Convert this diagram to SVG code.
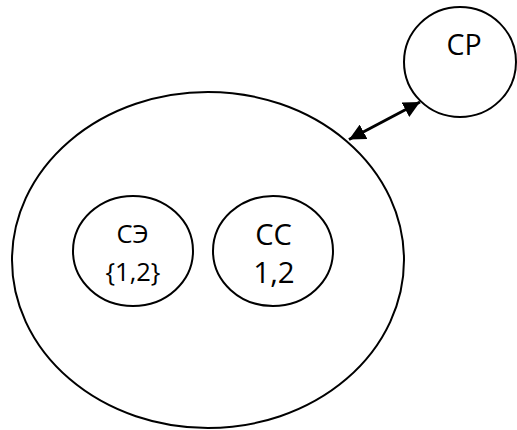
<svg xmlns="http://www.w3.org/2000/svg" width="517" height="430" viewBox="0 0 517 430">
<style>
.n{fill:#fff;stroke:#000;stroke-width:2}
.t{font-family:"Open Sans","Liberation Sans",sans-serif;fill:#000;text-anchor:middle}
.c{stroke:#000;stroke-width:3;fill:none}
</style>
<defs>
<marker id="ah" viewBox="0 0 10 10" refX="10" refY="5" markerWidth="5.5" markerHeight="5.5" orient="auto-start-reverse" markerUnits="strokeWidth">
<path d="M0,0 L10,5 L0,10 z" fill="#000"/>
</marker>
</defs>
<g id="outer"><ellipse class="n" cx="208" cy="260" rx="196" ry="168"/></g>
<g id="se"><ellipse class="n" cx="133" cy="251" rx="60" ry="55"/>
<text class="t" x="132.5" y="243" font-size="25.5">СЭ</text>
<text class="t" x="133" y="281" font-size="25.5">{1,2}</text></g>
<g id="cc"><ellipse class="n" cx="273" cy="251" rx="60" ry="55"/>
<text class="t" x="273.5" y="245" font-size="29">СС</text>
<text class="t" x="274" y="283" font-size="29.5">1,2</text></g>
<g id="cp"><ellipse class="n" cx="460" cy="62" rx="56" ry="55"/>
<text class="t" x="464" y="55" font-size="28.5">СР</text></g>
<g id="connectors"><line class="c" x1="349" y1="139.5" x2="420" y2="102" marker-start="url(#ah)" marker-end="url(#ah)"/></g>
</svg>
